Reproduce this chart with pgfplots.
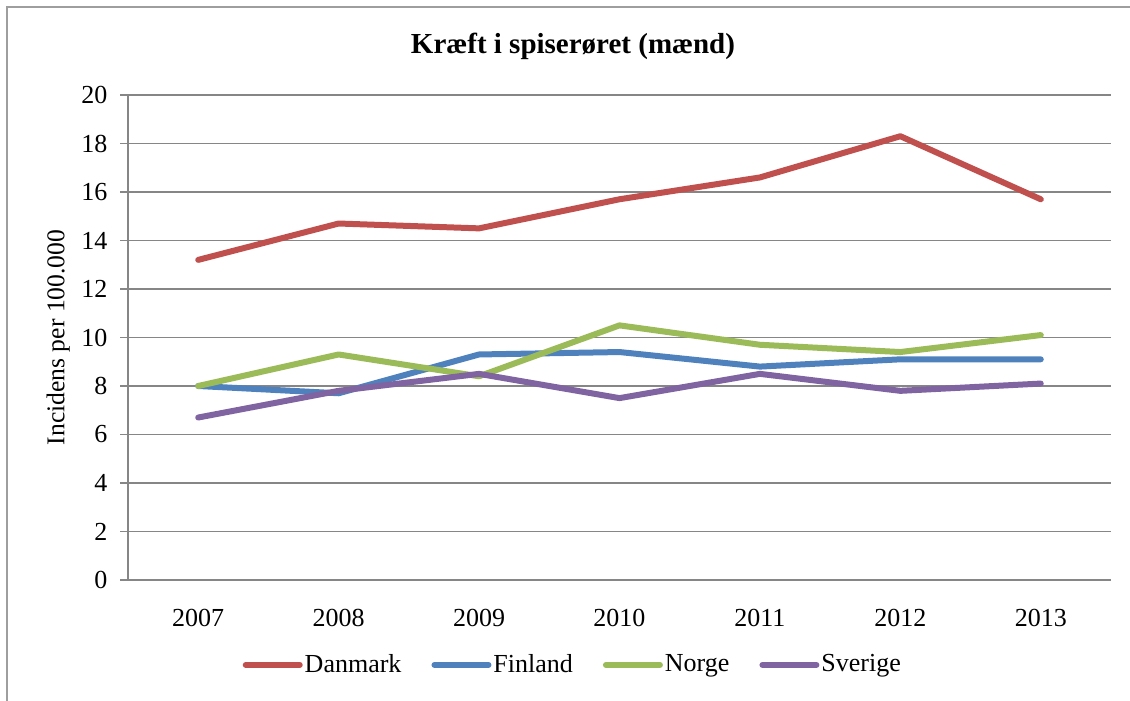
\documentclass[border=0pt]{standalone}
\usepackage{fontspec}
\setmainfont{Liberation Serif}
\usepackage{pgfplots}
\pgfplotsset{compat=1.18}
\definecolor{dk}{HTML}{C0504D}
\definecolor{fi}{HTML}{4F81BD}
\definecolor{no}{HTML}{9BBB59}
\definecolor{se}{HTML}{8064A2}
\definecolor{gridc}{HTML}{868686}
\begin{document}
\fontsize{12.5}{15}\selectfont
\begin{tikzpicture}
\useasboundingbox (0,0) rectangle (565pt,350.5pt);
\draw[gridc!80, line width=0.9pt] (3.5pt,-10pt) -- (3.5pt,347pt) -- (580pt,347pt);
\node[font=\fontsize{14.5}{17}\selectfont\bfseries] at (286.5pt,327.5pt) {Kræft i spiserøret (mænd)};
\begin{axis}[
  at={(64pt,60.5pt)}, anchor=south west,
  scale only axis, width=491.5pt, height=242.5pt,
  xmin=-0.5, xmax=6.5, ymin=0, ymax=20,
  axis x line=bottom, axis y line=left,
  axis line style={gridc, line width=0.8pt, -},
  xtick={0,...,6},
  xticklabels={2007,2008,2009,2010,2011,2012,2013},
  x tick style={draw=none},
  extra x ticks={-0.5,0.5,...,6.5},
  extra x tick labels={},
  extra x tick style={major tick length=4pt, tick align=outside, tick style={draw=gridc, line width=0.8pt}, grid=none},
  ytick={0,2,...,20},
  y tick style={gridc, line width=0.8pt},
  major tick length=4pt, tick align=outside,
  ymajorgrids, major grid style={gridc, line width=0.8pt},
  /pgf/number format/assume math mode=true,
  ticklabel style={font=\fontsize{13}{15}\selectfont},
  yticklabel style={xshift=-2pt},
  xticklabel style={yshift=-6pt},
  ylabel={Incidens per 100.000},
  ylabel style={font=\fontsize{12.8}{15}\selectfont, at={(axis description cs:-0.071,0.5)}, anchor=center},
  legend columns=4,
  legend style={draw=none, fill=none, at={(0.4525,-0.175)}, anchor=center,
    font=\fontsize{13}{15}\selectfont,
    nodes={inner sep=1pt},
    /tikz/every even column/.append style={column sep=14pt}},
  legend image code/.code={\draw[#1, line width=3pt] (0pt,0pt) -- (27pt,0pt);},
  every axis plot/.append style={line width=3pt, line join=round, line cap=round, mark=none},
]
\addplot[dk] coordinates {(0,13.2) (1,14.7) (2,14.5) (3,15.7) (4,16.6) (5,18.3) (6,15.7)};
\addplot[fi] coordinates {(0,8.0) (1,7.7) (2,9.3) (3,9.4) (4,8.8) (5,9.1) (6,9.1)};
\addplot[no] coordinates {(0,8.0) (1,9.3) (2,8.4) (3,10.5) (4,9.7) (5,9.4) (6,10.1)};
\addplot[se] coordinates {(0,6.7) (1,7.8) (2,8.5) (3,7.5) (4,8.5) (5,7.8) (6,8.1)};
\legend{Danmark,Finland,Norge,Sverige}
\end{axis}
\end{tikzpicture}
\end{document}
